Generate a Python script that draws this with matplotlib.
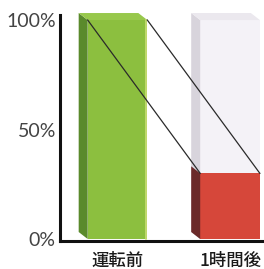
import matplotlib
matplotlib.use("Agg")
import matplotlib.pyplot as plt
from matplotlib.patches import Polygon

# data
categories = ["運転前", "1時間後"]
values = [100, 30]          # percent remaining
capacity = [100, 100]       # full-height ghost bar
ytick_vals = [0, 50, 100]
ytick_labels = ["0%", "50%", "100%"]

# 3D look
bar_w = 0.53
dx, dy = 0.08, 3.2
front_cols = ["#8cbf3f", "#d6473a"]
side_cols = ["#5a8a2c", "#6b2a2a"]
top_cols = ["#98c84c", None]
ghost_front, ghost_side, ghost_top = "#f4f2f7", "#d8d4dc", "#ebe8ee"


def box(ax, x, v, front, side, top, z):
    xl, xr = x - bar_w / 2, x + bar_w / 2
    ax.bar(x, v, width=bar_w, color=front, zorder=z, clip_on=False)
    ax.add_patch(Polygon([(xl - dx, dy), (xl, 0), (xl, v), (xl - dx, v + dy)],
                         closed=True, facecolor=side, edgecolor="none", zorder=z, clip_on=False))
    if top:
        ax.add_patch(Polygon([(xl - dx, v + dy), (xr - dx, v + dy), (xr, v), (xl, v)],
                             closed=True, facecolor=top, edgecolor="none", zorder=z, clip_on=False))


fig = plt.figure(figsize=(2.64, 2.69), dpi=100)
ax = fig.add_axes([60 / 264, 28 / 269, 203 / 264, 226 / 269])

xs = list(range(len(categories)))

# ghost bar behind the second category
box(ax, xs[1], capacity[1], ghost_front, ghost_side, ghost_top, 1)
for i in xs:
    box(ax, i, values[i], front_cols[i], side_cols[i], top_cols[i], 2)

# light highlight on right edge of first bar
ax.plot([xs[0] + bar_w / 2 - 0.01] * 2, [0, values[0]], color="#c9de74", lw=1.2, zorder=3)

# connecting lines between bar tops
for off in (-bar_w / 2, bar_w / 2):
    ax.plot([xs[0] + off, xs[1] + off], [values[0], values[1]], color="#2a2a2a", lw=0.9, zorder=4,
            clip_on=False)

ax.set_xlim(-0.511, 1.293)
ax.set_ylim(-0.9, 102.3)

ax.set_yticks(ytick_vals)
ax.set_yticklabels(ytick_labels, fontsize=14, family="Lato", color="#444444")
ax.set_xticks(xs)
ax.set_xticklabels(categories, fontsize=12.5, family=["Noto Sans CJK JP", "DejaVu Sans"],
                   fontweight="medium", color="#1a1a1a")
ax.tick_params(axis="both", length=0)
ax.tick_params(axis="y", pad=3)
ax.tick_params(axis="x", pad=8)

for s in ("top", "right"):
    ax.spines[s].set_visible(False)
for s in ("left", "bottom"):
    ax.spines[s].set_linewidth(2.2)
    ax.spines[s].set_color("#111111")
ax.set_facecolor("white")

fig.savefig("out.png", dpi=100)
